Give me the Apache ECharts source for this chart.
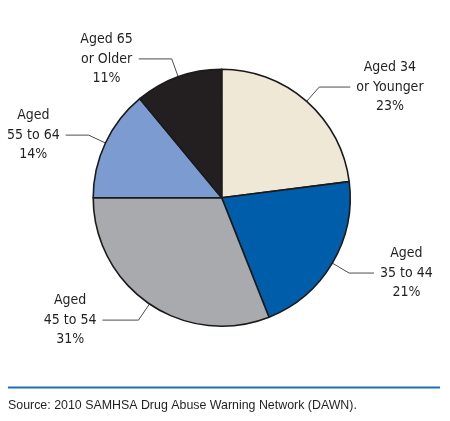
<!DOCTYPE html>
<html>
<head>
<meta charset="utf-8">
<script src="https://cdn.jsdelivr.net/npm/echarts@6/dist/echarts.min.js"></script>
<style>
  html, body { margin: 0; padding: 0; background: #ffffff; }
  #chart { width: 450px; height: 421px; }
</style>
</head>
<body>
<div id="chart"></div>
<script>
// ---- data ----
const categories = ['Aged 34 or Younger', 'Aged 35 to 44', 'Aged 45 to 54', 'Aged 55 to 64', 'Aged 65 or Older'];
const labelLines = [
  ['Aged 34', 'or Younger'],
  ['Aged', '35 to 44'],
  ['Aged', '45 to 54'],
  ['Aged', '55 to 64'],
  ['Aged 65', 'or Older']
];
const values = [23, 21, 31, 14, 11];
const sourceNote = 'Source: 2010 SAMHSA Drug Abuse Warning Network (DAWN).';

// ---- styles ----
const sliceColors = ['#efe8d6', '#005daa', '#a8aaad', '#7b9bd1', '#231f20'];
const leaderLength = [19, 19.5, 19.5, 18.5, 19];
const leaderLength2 = [31, 25, 36, 23, 33];
const labelGap = 6;

const chart = echarts.init(document.getElementById('chart'), null, { renderer: 'canvas' });

const pieData = categories.map((name, i) => ({
  name: name,
  value: values[i],
  itemStyle: { color: sliceColors[i] },
  label: {
    formatter: labelLines[i].join('\n') + '\n' + values[i] + '%'
  },
  labelLine: { length: leaderLength[i], length2: leaderLength2[i] }
}));

chart.setOption({
  animation: false,
  backgroundColor: '#ffffff',
  series: [{
    type: 'pie',
    center: [221.7, 197.7],
    radius: [0, 128.5],
    startAngle: 90,
    clockwise: true,
    avoidLabelOverlap: false,
    itemStyle: { borderColor: '#1a1a1a', borderWidth: 1.6 },
    label: {
      show: true,
      position: 'outside',
      fontFamily: '"DejaVu Sans Condensed", "Liberation Sans Narrow", sans-serif',
      fontSize: 14,
      lineHeight: 19.5,
      color: '#231f20',
      align: 'center'
    },
    labelLine: {
      show: true,
      lineStyle: { color: '#4d4d4d', width: 1 }
    },
    emphasis: { disabled: true },
    labelLayout: function (params) {
      const pts = params.labelLinePoints;
      if (!pts) return {};
      const end = pts[pts.length - 1];
      const prev = pts[pts.length - 2];
      const w = params.labelRect.width;
      const dir = end[0] >= prev[0] ? 1 : -1;
      return {
        x: end[0] + dir * (labelGap + w / 2),
        y: end[1],
        align: 'center',
        verticalAlign: 'middle',
        labelLinePoints: pts
      };
    },
    data: pieData
  }],
  graphic: [
    {
      type: 'line',
      shape: { x1: 8, y1: 387.5, x2: 440, y2: 387.5 },
      style: { stroke: '#1f6fb6', lineWidth: 2 }
    },
    {
      type: 'text',
      left: 8,
      top: 400,
      style: {
        text: sourceNote,
        fontFamily: '"Liberation Sans", Arial, Helvetica, sans-serif',
        fontSize: 12.4,
        fill: '#231f20'
      }
    }
  ]
});
</script>
</body>
</html>
